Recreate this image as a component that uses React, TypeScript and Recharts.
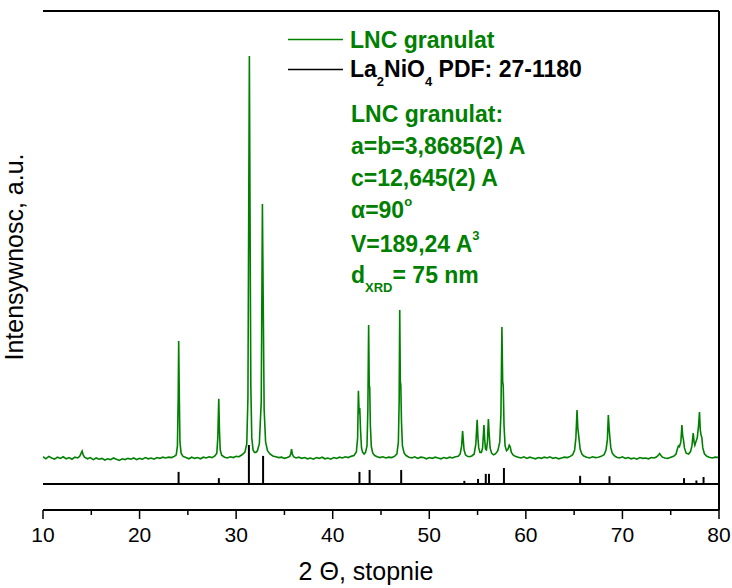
import React from 'react';
import { ComposedChart, Line, XAxis, YAxis, ReferenceLine } from 'recharts';

const GREEN = '#008000';
const FONT = '"Liberation Sans", Arial, sans-serif';

// LNC granulat scan: [2 theta, counts above background]
const lncScan: [number, number][] = [
  [10.0, 3], [10.3, -2], [10.6, 4], [10.9, 0], [11.2, -3], [11.5, 2], [11.8, -1], [12.1, 3], [12.4, -2],
  [12.7, 1], [13.0, -3], [13.3, 2], [13.6, 0], [13.8, 4], [13.95, 12], [14.05, 17], [14.15, 8], [14.3, 2],
  [14.6, -2], [14.9, 1], [15.2, -4], [15.5, 0], [15.8, -3], [16.1, -1], [16.4, -5], [16.7, -2], [17.0, -4],
  [17.3, 0], [17.6, -3], [17.9, -6], [18.2, -2], [18.5, -4], [18.8, -1], [19.1, -3], [19.4, 0], [19.7, -4],
  [20.0, -1], [20.3, -3], [20.6, 1], [20.9, -2], [21.2, 0], [21.5, -3], [21.8, 1], [22.1, -1], [22.4, 2],
  [22.7, 0], [23.0, 2], [23.3, 1], [23.6, 4], [23.8, 8], [23.92, 30], [24.0, 150], [24.05, 291], [24.1, 180],
  [24.18, 40], [24.3, 12], [24.5, 4], [24.8, 1], [25.1, -2], [25.4, 2], [25.7, -1], [26.0, 1], [26.3, -2],
  [26.6, 2], [26.9, 0], [27.2, 3], [27.5, 1], [27.8, 5], [28.0, 12], [28.1, 50], [28.2, 147], [28.27, 70],
  [28.35, 20], [28.5, 7], [28.8, 2], [29.1, 0], [29.4, 3], [29.7, 1], [30.0, 4], [30.3, 3], [30.6, 8],
  [30.9, 14], [31.1, 35], [31.22, 150], [31.3, 600], [31.37, 1000], [31.43, 650], [31.52, 180], [31.62, 50],
  [31.75, 20], [31.9, 14], [32.05, 14], [32.2, 18], [32.4, 35], [32.6, 140], [32.72, 632], [32.8, 400],
  [32.9, 120], [33.05, 40], [33.25, 18], [33.5, 10], [33.8, 5], [34.1, 3], [34.4, 1], [34.7, 2], [35.0, -1],
  [35.3, 1], [35.55, 4], [35.65, 10], [35.74, 22], [35.82, 10], [35.95, 3], [36.2, 0], [36.5, 2], [36.8, -1],
  [37.1, 1], [37.4, -2], [37.7, 0], [38.0, -3], [38.3, 1], [38.6, -1], [38.9, 2], [39.2, -2], [39.5, 0],
  [39.8, -3], [40.1, 1], [40.4, -1], [40.7, 2], [41.0, 0], [41.3, 3], [41.6, 1], [41.9, 4], [42.2, 6],
  [42.45, 15], [42.58, 50], [42.66, 167], [42.74, 110], [42.8, 124], [42.88, 70], [42.98, 25], [43.1, 14],
  [43.25, 10], [43.4, 14], [43.55, 30], [43.64, 120], [43.72, 331], [43.78, 180], [43.83, 177], [43.9, 80],
  [44.0, 28], [44.15, 12], [44.35, 6], [44.6, 3], [44.9, 1], [45.2, 3], [45.5, 0], [45.8, 2], [46.1, 1],
  [46.4, 4], [46.65, 10], [46.8, 40], [46.88, 140], [46.94, 368], [47.0, 190], [47.05, 182], [47.12, 90],
  [47.22, 30], [47.4, 12], [47.6, 6], [47.9, 2], [48.2, 0], [48.5, 3], [48.8, -1], [49.1, 2], [49.4, 1],
  [49.7, -2], [50.0, 1], [50.3, -1], [50.6, 2], [50.9, 0], [51.2, -2], [51.5, 1], [51.8, -1], [52.1, 2],
  [52.4, 0], [52.7, 3], [53.0, 4], [53.2, 10], [53.35, 30], [53.45, 67], [53.52, 45], [53.6, 20], [53.75, 8],
  [53.95, 4], [54.15, 3], [54.4, 5], [54.65, 10], [54.82, 35], [54.96, 95], [55.04, 50], [55.12, 25],
  [55.25, 14], [55.4, 14], [55.52, 25], [55.66, 82], [55.74, 45], [55.82, 22], [55.92, 20], [56.02, 40],
  [56.12, 97], [56.2, 60], [56.3, 25], [56.45, 12], [56.65, 8], [56.85, 10], [57.1, 18], [57.3, 40],
  [57.42, 110], [57.52, 326], [57.6, 190], [57.66, 179], [57.74, 80], [57.85, 30], [58.0, 18], [58.15, 22],
  [58.28, 32], [58.38, 28], [58.5, 14], [58.7, 7], [58.9, 4], [59.2, 2], [59.5, 0], [59.8, 3], [60.1, -1],
  [60.4, 2], [60.7, 0], [61.0, -2], [61.3, 1], [61.6, -1], [61.9, 2], [62.2, 0], [62.5, 3], [62.8, -1],
  [63.1, 1], [63.4, -2], [63.7, 0], [64.0, 2], [64.3, 1], [64.6, 4], [64.85, 8], [65.05, 20], [65.18, 50],
  [65.3, 119], [65.38, 75], [65.45, 60], [65.52, 45], [65.62, 22], [65.8, 10], [66.0, 5], [66.3, 2],
  [66.6, 0], [66.9, 3], [67.2, 1], [67.5, 2], [67.8, 4], [68.1, 8], [68.3, 20], [68.44, 45], [68.54, 107],
  [68.62, 75], [68.7, 50], [68.8, 25], [68.95, 12], [69.15, 6], [69.4, 2], [69.7, 0], [70.0, 3], [70.3, -1],
  [70.6, 1], [70.9, -2], [71.2, 0], [71.5, -3], [71.8, 1], [72.1, -1], [72.4, 0], [72.7, -2], [73.0, 1],
  [73.3, 0], [73.55, 3], [73.75, 8], [73.85, 11], [73.97, 7], [74.15, 2], [74.4, 0], [74.7, -1], [75.0, 2],
  [75.3, 4], [75.55, 10], [75.72, 25], [75.8, 30], [75.9, 28], [76.05, 40], [76.16, 82], [76.24, 55],
  [76.32, 45], [76.42, 25], [76.6, 12], [76.85, 10], [77.05, 16], [77.2, 30], [77.33, 62], [77.42, 40],
  [77.5, 32], [77.6, 40], [77.75, 50], [77.88, 80], [77.98, 114], [78.06, 70], [78.14, 57], [78.22, 52],
  [78.32, 25], [78.5, 10], [78.75, 4], [79.0, 2], [79.3, 0], [79.6, 2], [80.0, 1],
];

// La2NiO4 PDF 27-1180 reference lines
const pdfPositions = [24.04, 28.21, 31.32, 32.79, 42.77, 43.82, 47.09, 53.63, 55.05, 55.85, 56.18, 57.73, 65.62, 68.66, 76.38, 77.66, 78.4];
const pdfIntensities = [31, 15, 100, 72, 31, 36, 36, 8, 13, 26, 26, 41, 21, 20, 15, 9, 18];

const xMajorTicks = [10, 20, 30, 40, 50, 60, 70, 80];
const xMinorTicks = [15, 25, 35, 45, 55, 65, 75];
const topTicks = [1, 2, 3, 4, 5, 6, 7, 8, 9];
const leftTicks = [1, 2, 3, 4, 5, 6, 7, 8, 9, 10, 11, 12, 13, 14, 15, 16, 17, 18];
const rightTicks = [1, 2, 3, 4, 5, 6, 7, 8, 9];

const scanData = lncScan.map(([x, y]) => ({ x, y }));
const xTicks = [...xMajorTicks, ...xMinorTicks].sort((a, b) => a - b);

const BottomTick = (props: any) => {
  const { x, y, payload } = props;
  const major = xMajorTicks.includes(payload.value);
  return (
    <g>
      <line x1={x} y1={y} x2={x} y2={y + (major ? 9 : 5)} stroke="#000" strokeWidth={1.5} />
      {major && (
        <text x={x} y={y + 32} textAnchor="middle" fontSize={21} fontFamily={FONT} fill="#000">
          {payload.value}
        </text>
      )}
    </g>
  );
};

const inTick = (dx: number, dy: number) => (props: any) => (
  <line x1={props.x} y1={props.y} x2={props.x + dx} y2={props.y + dy} stroke="#000" strokeWidth={1.3} />
);

const frame = { stroke: '#000', strokeWidth: 2 };

const App = () => {
  return (
    <div style={{ position: 'absolute', left: 0, top: 0, width: 732, height: 588, background: '#fff' }}>
      <ComposedChart width={732} height={588} margin={{ top: 10, right: 12, bottom: 77, left: 42 }}>
        <XAxis xAxisId="b" type="number" dataKey="x" domain={[10, 80]} ticks={xTicks} allowDataOverflow
          height={1} tickSize={0} tickMargin={0} tickLine={false} tick={BottomTick} interval={0}
          axisLine={frame} />
        <XAxis xAxisId="t" orientation="top" type="number" domain={[0, 10]} ticks={topTicks}
          height={1} tickSize={0} tickMargin={0} tickLine={false} tick={inTick(0, 4)} interval={0}
          axisLine={frame} />
        <YAxis yAxisId="l" type="number" domain={[0, 19]} ticks={leftTicks} width={1} tickSize={0}
          tickMargin={0} tickLine={false} tick={inTick(4, 0)} interval={0} axisLine={frame} />
        <YAxis yAxisId="r" orientation="right" type="number" domain={[0, 10]} ticks={rightTicks} width={1}
          tickSize={0} tickMargin={0} tickLine={false} tick={inTick(-4, 0)} interval={0} axisLine={frame} />
        <YAxis yAxisId="g" hide type="number" domain={[-129.4, 1111.9]} allowDataOverflow />
        <YAxis yAxisId="s" hide type="number" domain={[-66.7, 1212.8]} allowDataOverflow />
        <ReferenceLine xAxisId="b" yAxisId="s" y={0} stroke="#000" strokeWidth={2} />
        {pdfPositions.map((p, i) => (
          <ReferenceLine key={`pdf-${i}`} xAxisId="b" yAxisId="s"
            segment={[{ x: p, y: 0 }, { x: p, y: pdfIntensities[i] }]} stroke="#000" strokeWidth={2} />
        ))}
        <Line xAxisId="b" yAxisId="g" data={scanData} dataKey="y" type="linear" stroke={GREEN}
          strokeWidth={1.6} dot={false} activeDot={false} isAnimationActive={false} />
      </ComposedChart>

      <svg width={732} height={588} style={{ position: 'absolute', left: 0, top: 0, pointerEvents: 'none' }}
        fontFamily={FONT}>
        <line x1={288} y1={39.5} x2={343} y2={39.5} stroke={GREEN} strokeWidth={1.5} />
        <text x={350} y={47.5} fontSize={23} fontWeight="bold" fill={GREEN}>LNC granulat</text>
        <line x1={288} y1={69.5} x2={343} y2={69.5} stroke="#000" strokeWidth={1.5} />
        <text x={350} y={77} fontSize={23} fontWeight="bold" fill="#000">
          La<tspan fontSize={13} dy={9}>2</tspan>
          <tspan dy={-9}>NiO</tspan><tspan fontSize={13} dy={9}>4</tspan>
          <tspan dy={-9}> PDF: 27-1180</tspan>
        </text>

        <g fontSize={23} fontWeight="bold" fill={GREEN}>
          <text x={351} y={122}>LNC granulat:</text>
          <text x={351} y={154}>a=b=3,8685(2) A</text>
          <text x={351} y={186}>c=12,645(2) A</text>
          <text x={351} y={218}>α=90<tspan fontSize={13} dy={-12}>o</tspan></text>
          <text x={351} y={252}>V=189,24 A<tspan fontSize={13} dy={-12}>3</tspan></text>
          <text x={351} y={283}>d<tspan fontSize={13} dy={9}>XRD</tspan><tspan dy={-9}>= 75 nm</tspan></text>
        </g>

        <text x={366} y={580} textAnchor="middle" fontSize={25} fill="#000">2 Θ, stopnie</text>
        <text transform="translate(23,257) rotate(-90)" textAnchor="middle" fontSize={25} fill="#000">
          Intensywnosc, a.u.
        </text>
      </svg>
    </div>
  );
};

export default App;
